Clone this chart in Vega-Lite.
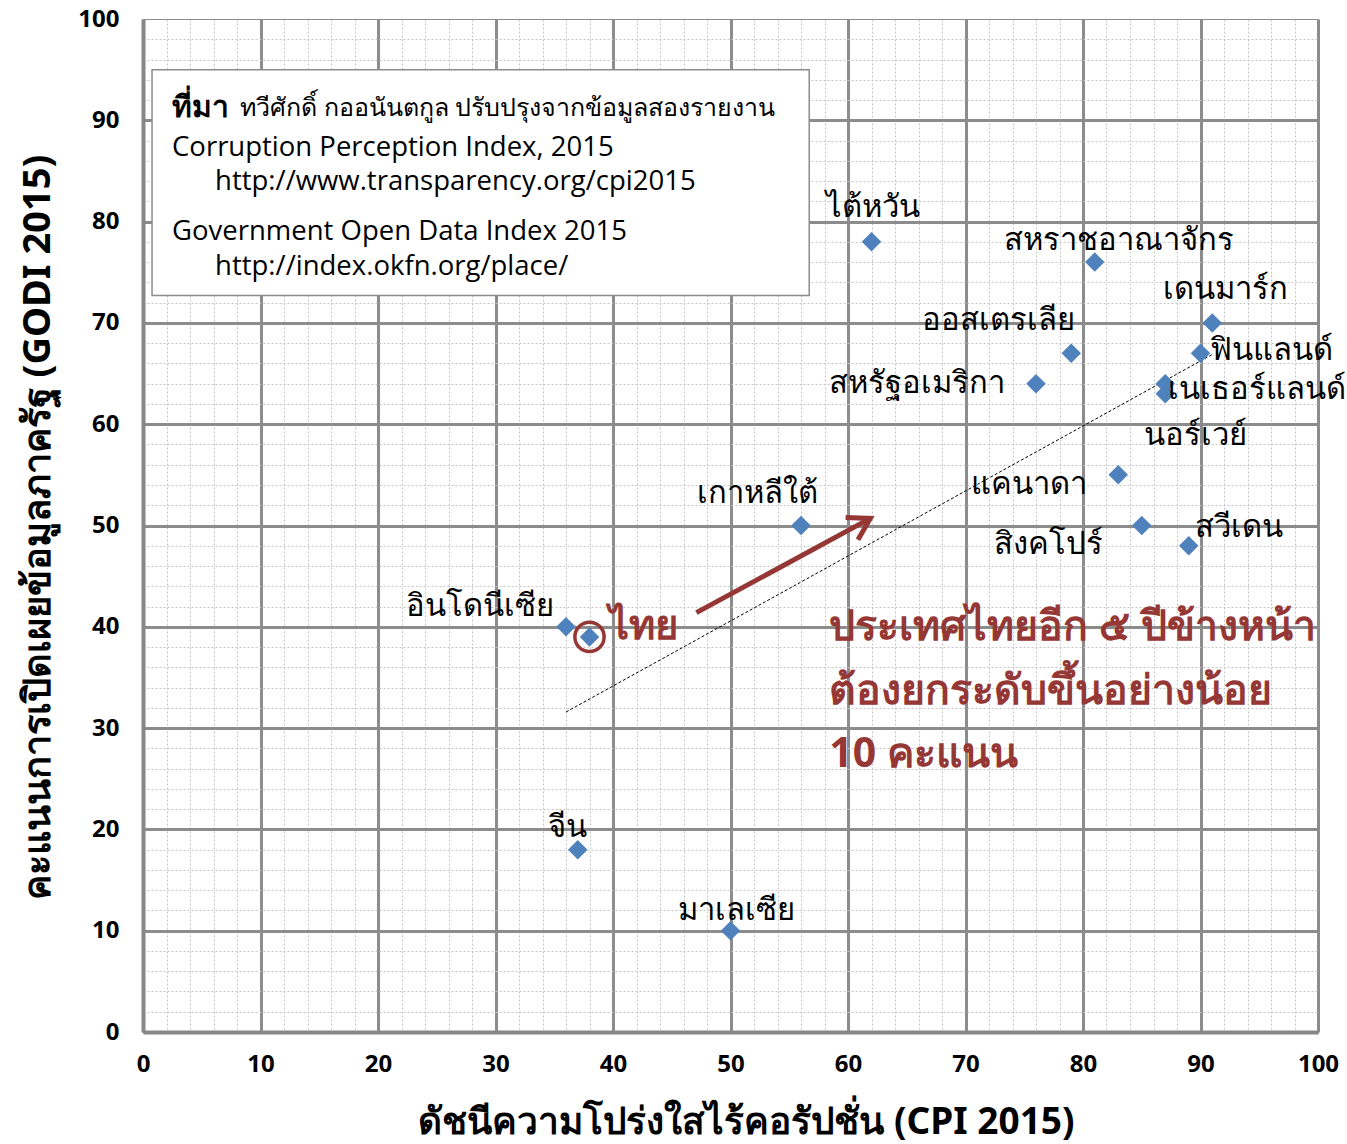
{
  "$schema": "https://vega.github.io/schema/vega-lite/v6.json",
  "width": 1175,
  "height": 1013,
  "autosize": {"type": "none"},
  "padding": {"left": 143, "top": 19, "right": 29, "bottom": 112},
  "background": "white",
  "config": {"view": {"stroke": null}},
  "datasets": {
    "countries": [
      {"name": "ไต้หวัน", "cpi": 62, "godi": 78, "lx": 62.1, "ly": 81.3},
      {"name": "สหราชอาณาจักร", "cpi": 81, "godi": 76, "lx": 83.1, "ly": 78.1},
      {"name": "เดนมาร์ก", "cpi": 91, "godi": 70, "lx": 92.1, "ly": 73.2},
      {"name": "ฟินแลนด์", "cpi": 90, "godi": 67, "lx": 96.0, "ly": 67.2},
      {"name": "ออสเตรเลีย", "cpi": 79, "godi": 67, "lx": 72.8, "ly": 70.2},
      {"name": "สหรัฐอเมริกา", "cpi": 76, "godi": 64, "lx": 65.9, "ly": 64.0},
      {"name": "เนเธอร์แลนด์", "cpi": 87, "godi": 64, "lx": 94.8, "ly": 63.4},
      {"name": "นอร์เวย์", "cpi": 87, "godi": 63, "lx": 89.6, "ly": 58.8},
      {"name": "แคนาดา", "cpi": 83, "godi": 55, "lx": 75.4, "ly": 54.0},
      {"name": "สิงคโปร์", "cpi": 85, "godi": 50, "lx": 77.1, "ly": 48.1},
      {"name": "สวีเดน", "cpi": 89, "godi": 48, "lx": 93.3, "ly": 49.8},
      {"name": "เกาหลีใต้", "cpi": 56, "godi": 50, "lx": 52.3, "ly": 53.1},
      {"name": "อินโดนีเซีย", "cpi": 36, "godi": 40, "lx": 28.7, "ly": 42.0},
      {"name": "ไทย", "cpi": 38, "godi": 39, "lx": 42.6, "ly": 40.0},
      {"name": "จีน", "cpi": 37, "godi": 18, "lx": 36.1, "ly": 20.1},
      {"name": "มาเลเซีย", "cpi": 50, "godi": 10, "lx": 50.5, "ly": 11.9}
    ],
    "sourcebox": [{"x1": 0.77, "x2": 56.7, "y1": 72.7, "y2": 95.0}],
    "sourcetext": [
      {"text": "Corruption Perception Index, 2015", "x": 2.47, "y": 87.3},
      {"text": "http://www.transparency.org/cpi2015", "x": 6.13, "y": 83.9},
      {"text": "Government Open Data Index 2015", "x": 2.47, "y": 79.0},
      {"text": "http://index.okfn.org/place/", "x": 6.13, "y": 75.5}
    ],
    "sourcehead": [{"text": "ที่มา", "x": 2.47, "y": 91.2}],
    "sourcethai": [{"text": "ทวีศักดิ์ กออนันตกูล ปรับปรุงจากข้อมูลสองรายงาน", "x": 8.26, "y": 91.2}],
    "note": [
      {"text": "ประเทศไทยอีก ๕ ปีข้างหน้า", "x": 58.4, "y": 39.9},
      {"text": "ต้องยกระดับขึ้นอย่างน้อย", "x": 58.4, "y": 33.6},
      {"text": "10 คะแนน", "x": 58.4, "y": 27.3}
    ],
    "arrow": [{"x1": 47.1, "y1": 41.4, "x2": 61.9, "y2": 50.7}],
    "arrowhead": [{"x": 61.9, "y": 50.7}],
    "thai": [{"cpi": 38, "godi": 39}]
  },
  "encoding": {
    "x": {
      "type": "quantitative",
      "scale": {"domain": [0, 100], "nice": false, "zero": false},
      "axis": {
        "title": "ดัชนีความโปร่งใสไร้คอรัปชั่น (CPI 2015)",
        "titleFont": "Noto Sans",
        "titleFontSize": 37,
        "titleFontWeight": "bold",
        "titleColor": "black",
        "titleX": 603,
        "titleY": 90,
        "titleBaseline": "middle",
        "titleAlign": "center",
        "values": [0,2,4,6,8,10,12,14,16,18,20,22,24,26,28,30,32,34,36,38,40,42,44,46,48,50,52,54,56,58,60,62,64,66,68,70,72,74,76,78,80,82,84,86,88,90,92,94,96,98,100],
        "labelExpr": "datum.value % 10 === 0 ? datum.label : ''",
        "labelFont": "Noto Sans",
        "labelFontSize": 24,
        "labelFontWeight": "bold",
        "labelColor": "black",
        "labelPadding": 20,
        "labelFlush": false,
        "labelOverlap": false,
        "ticks": false,
        "domainColor": "#878787",
        "domainWidth": 4,
        "grid": true,
        "gridColor": {"condition": {"test": "datum.value % 10 === 0", "value": "#8c8c8c"}, "value": "#c4c4c4"},
        "gridWidth": {"condition": {"test": "datum.value % 10 === 0", "value": 3}, "value": 1},
        "gridDash": {"condition": {"test": "datum.value % 10 === 0", "value": []}, "value": [2, 2]},
        "gridOpacity": 1
      }
    },
    "y": {
      "type": "quantitative",
      "scale": {"domain": [0, 100], "nice": false, "zero": false},
      "axis": {
        "title": "คะแนนการเปิดเผยข้อมูลภาครัฐ (GODI 2015)",
        "titleFont": "Noto Sans",
        "titleFontSize": 38,
        "titleFontWeight": "bold",
        "titleColor": "black",
        "titleX": -105,
        "titleY": 508,
        "titleAngle": -90,
        "titleBaseline": "middle",
        "titleAlign": "center",
        "values": [0,2,4,6,8,10,12,14,16,18,20,22,24,26,28,30,32,34,36,38,40,42,44,46,48,50,52,54,56,58,60,62,64,66,68,70,72,74,76,78,80,82,84,86,88,90,92,94,96,98,100],
        "labelExpr": "datum.value % 10 === 0 ? datum.label : ''",
        "labelFont": "Noto Sans",
        "labelFontSize": 24,
        "labelFontWeight": "bold",
        "labelColor": "black",
        "labelPadding": 24,
        "labelFlush": false,
        "labelOverlap": false,
        "ticks": false,
        "domainColor": "#878787",
        "domainWidth": 4,
        "grid": true,
        "gridColor": {"condition": {"test": "datum.value % 10 === 0", "value": "#8c8c8c"}, "value": "#c4c4c4"},
        "gridWidth": {"condition": {"test": "datum.value % 10 === 0 && datum.value < 100", "value": 3}, "value": 1},
        "gridDash": {"condition": {"test": "datum.value % 10 === 0", "value": []}, "value": [2, 2]},
        "gridOpacity": 1
      }
    }
  },
  "layer": [
    {
      "data": {"name": "sourcebox"},
      "mark": {"type": "rect", "fill": "white", "stroke": "#8c8c8c", "strokeWidth": 1.5},
      "encoding": {"x": {"field": "x1", "type": "quantitative"}, "x2": {"field": "x2"}, "y": {"field": "y1", "type": "quantitative"}, "y2": {"field": "y2"}}
    },
    {
      "data": {"name": "sourcehead"},
      "mark": {"type": "text", "align": "left", "baseline": "middle", "font": "Noto Sans", "fontSize": 30, "fontWeight": "bold", "color": "black"},
      "encoding": {"x": {"field": "x", "type": "quantitative"}, "y": {"field": "y", "type": "quantitative"}, "text": {"field": "text"}}
    },
    {
      "data": {"name": "sourcethai"},
      "mark": {"type": "text", "align": "left", "baseline": "middle", "font": "Noto Sans", "fontSize": 25, "color": "black"},
      "encoding": {"x": {"field": "x", "type": "quantitative"}, "y": {"field": "y", "type": "quantitative"}, "text": {"field": "text"}}
    },
    {
      "data": {"name": "sourcetext"},
      "mark": {"type": "text", "align": "left", "baseline": "middle", "font": "Open Sans", "fontSize": 27.5, "color": "black"},
      "encoding": {"x": {"field": "x", "type": "quantitative"}, "y": {"field": "y", "type": "quantitative"}, "text": {"field": "text"}}
    },
    {
      "data": {"name": "countries"},
      "transform": [{"regression": "godi", "on": "cpi"}],
      "mark": {"type": "line", "color": "black", "strokeWidth": 1, "strokeDash": [3, 2]},
      "encoding": {"x": {"field": "cpi", "type": "quantitative"}, "y": {"field": "godi", "type": "quantitative"}}
    },
    {
      "data": {"name": "arrow"},
      "mark": {"type": "rule", "color": "#953735", "strokeWidth": 5},
      "encoding": {"x": {"field": "x1", "type": "quantitative"}, "y": {"field": "y1", "type": "quantitative"}, "x2": {"field": "x2"}, "y2": {"field": "y2"}}
    },
    {
      "data": {"name": "arrowhead"},
      "mark": {"type": "point", "shape": "M-1,-0.6L0,0L-1,0.6", "filled": false, "stroke": "#953735", "strokeWidth": 5, "strokeJoin": "miter", "size": 1800, "angle": 331, "opacity": 1},
      "encoding": {"x": {"field": "x", "type": "quantitative"}, "y": {"field": "y", "type": "quantitative"}}
    },
    {
      "data": {"name": "countries"},
      "mark": {"type": "point", "shape": "diamond", "filled": true, "color": "#4f81bd", "size": 380, "opacity": 1},
      "encoding": {"x": {"field": "cpi", "type": "quantitative"}, "y": {"field": "godi", "type": "quantitative"}}
    },
    {
      "data": {"name": "thai"},
      "mark": {"type": "point", "shape": "circle", "filled": false, "stroke": "#953735", "strokeWidth": 3.5, "size": 855, "opacity": 1},
      "encoding": {"x": {"field": "cpi", "type": "quantitative"}, "y": {"field": "godi", "type": "quantitative"}}
    },
    {
      "data": {"name": "countries"},
      "transform": [{"filter": "datum.name !== 'ไทย'"}],
      "mark": {"type": "text", "align": "center", "baseline": "middle", "font": "Noto Sans", "fontSize": 31, "color": "black"},
      "encoding": {
        "x": {"field": "lx", "type": "quantitative"},
        "y": {"field": "ly", "type": "quantitative"},
        "text": {"field": "name"}
      }
    },
    {
      "data": {"name": "countries"},
      "transform": [{"filter": "datum.name === 'ไทย'"}],
      "mark": {"type": "text", "align": "center", "baseline": "middle", "font": "Noto Sans", "fontSize": 40, "fontWeight": "bold", "color": "#953735"},
      "encoding": {
        "x": {"field": "lx", "type": "quantitative"},
        "y": {"field": "ly", "type": "quantitative"},
        "text": {"field": "name"}
      }
    },
    {
      "data": {"name": "note"},
      "mark": {"type": "text", "align": "left", "baseline": "middle", "font": "Noto Sans", "fontSize": 41, "fontWeight": "bold", "color": "#953735"},
      "encoding": {"x": {"field": "x", "type": "quantitative"}, "y": {"field": "y", "type": "quantitative"}, "text": {"field": "text"}}
    }
  ]
}
